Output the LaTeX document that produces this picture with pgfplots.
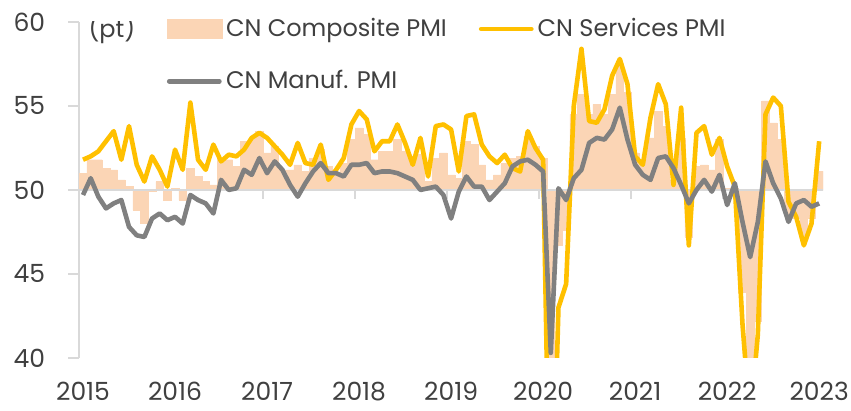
\documentclass[border=0pt]{standalone}
\usepackage{fontspec}
\setmainfont{Poppins}
\usepackage{pgfplots}
\pgfplotsset{compat=1.18}
\usepackage{pgfplotstable}
\usetikzlibrary{calc}
\definecolor{comp}{HTML}{FBD5B5}
\definecolor{serv}{HTML}{FFC000}
\definecolor{manu}{HTML}{808080}
\definecolor{txt}{HTML}{404040}
\definecolor{axgray}{HTML}{D9D9D9}

% monthly, i=0 is Jan 2015, i=96 is Jan 2023
\pgfplotstableread{
i comp serv manuf
0 51.0 51.8 49.7
1 51.8 52.0 50.7
2 51.8 52.3 49.6
3 51.3 52.9 48.9
4 51.2 53.5 49.2
5 50.6 51.8 49.4
6 50.2 53.8 47.8
7 48.8 51.5 47.3
8 48.0 50.5 47.2
9 49.9 52.0 48.3
10 50.5 51.2 48.6
11 49.4 50.2 48.2
12 50.1 52.4 48.4
13 49.4 51.2 48.0
14 51.3 55.2 49.7
15 50.8 51.8 49.4
16 50.5 51.2 49.2
17 50.3 52.7 48.6
18 51.9 51.7 50.6
19 51.8 52.1 50.0
20 51.4 52.0 50.1
21 52.9 52.4 51.2
22 53.0 53.1 50.9
23 53.5 53.4 51.9
24 52.2 53.1 51.0
25 52.6 52.6 51.7
26 51.2 52.1 51.2
27 51.2 51.5 50.3
28 51.5 52.8 49.6
29 51.1 51.6 50.4
30 51.9 51.5 51.1
31 52.4 52.7 51.6
32 51.4 50.6 51.0
33 51.0 51.2 51.0
34 51.6 51.9 50.8
35 53.0 53.9 51.5
36 53.7 54.7 51.5
37 53.3 54.2 51.6
38 51.8 52.3 51.0
39 52.3 52.9 51.1
40 52.3 52.9 51.1
41 53.0 53.9 51.0
42 52.3 52.8 50.8
43 52.0 51.5 50.6
44 52.1 53.1 50.0
45 50.5 50.8 50.1
46 51.9 53.8 50.2
47 52.2 53.9 49.7
48 50.9 53.6 48.3
49 50.7 51.1 49.9
50 52.9 54.4 50.8
51 52.7 54.5 50.2
52 51.5 52.7 50.2
53 50.6 52.0 49.4
54 50.9 51.6 49.9
55 51.6 52.1 50.4
56 51.9 51.3 51.4
57 52.0 51.1 51.7
58 53.2 53.5 51.8
59 52.6 52.5 51.5
60 51.9 51.8 51.1
61 27.5 26.5 40.3
62 46.7 43.0 50.1
63 47.6 44.4 49.4
64 54.5 55.0 50.7
65 55.7 58.4 51.2
66 54.5 54.1 52.8
67 55.1 54.0 53.1
68 54.5 54.8 53.0
69 55.7 56.8 53.6
70 57.5 57.8 54.9
71 55.8 56.3 53.0
72 52.2 52.0 51.5
73 51.7 51.5 50.9
74 53.1 54.3 50.6
75 54.7 56.3 51.9
76 53.8 55.1 52.0
77 50.6 50.3 51.3
78 53.1 54.9 50.3
79 47.2 46.7 49.2
80 51.4 53.4 50.0
81 51.5 53.8 50.6
82 51.2 52.1 49.9
83 53.0 53.1 50.9
84 50.1 51.4 49.1
85 50.1 50.2 50.4
86 43.9 42.0 48.1
87 37.2 36.2 46.0
88 42.2 41.4 48.1
89 55.3 54.5 51.7
90 54.0 55.5 50.4
91 53.0 55.0 49.5
92 48.5 49.3 48.1
93 48.3 48.4 49.2
94 47.0 46.7 49.4
95 48.3 48.0 49.0
96 51.1 52.9 49.2
}\pmi

\begin{document}
\begin{tikzpicture}
\begin{axis}[name=ax, scale only axis, width=372pt, height=168pt,
  xmin=-0.5, xmax=96.5, ymin=-10, ymax=10,
  axis lines*=left,
  x axis line style={draw=none},
  y axis line style={draw=axgray, line width=1pt},
  tick align=outside,
  major tick length=5.5pt,
  xtick style={draw=none},
  ytick style={draw=axgray, line width=1pt},
  ytick={-10,-5,0,5,10}, yticklabels={40,45,50,55,60},
  xtick={0,12,...,96},
  xticklabels={2015,2016,2017,2018,2019,2020,2021,2022,2023},
  ticklabel style={font=\fontsize{12.5}{14}\selectfont, text=txt},
  xticklabel style={yshift=-3pt},
  yticklabel style={xshift=-8pt},
  legend columns=2,
  legend cell align=left,
  legend style={draw=none, fill=none, at={(rel axis cs:0.117,1.0)}, anchor=north west,
    yshift=4pt,
    font=\fontsize{12}{14}\selectfont, text=txt, inner sep=0pt,
    row sep=11.5pt,
    /tikz/every even column/.append style={column sep=14pt}},
]
\pgfplotsinvokeforeach{11.5,23.5,35.5,47.5,59.5,71.5,83.5,95.5}{
  \draw[axgray, line width=1pt] (axis cs:#1,0) -- ++(0pt,-4.5pt);
}
\addplot[ybar, bar width=1, bar shift=0pt, fill=comp, draw=comp, line width=0.2pt,
  legend image code/.code={\fill[comp] (0pt,-4.75pt) rectangle (27.5pt,4.75pt);}]
  table[x=i, y expr=\thisrow{comp}-50] {\pmi};
\addlegendentry{CN Composite PMI}
\addplot[axgray, line width=1pt, forget plot] coordinates {(-0.5,0) (96.5,0)};
\addplot[serv, line width=2.3pt, line join=round, mark=none,
  legend image code/.code={\draw[serv, line width=2.3pt, line cap=round] (1.2pt,0pt) -- (26.3pt,0pt);}]
  table[x=i, y expr=\thisrow{serv}-50] {\pmi};
\addlegendentry{CN Services PMI}
\addplot[manu, line width=2.3pt, line join=round, mark=none,
  legend image code/.code={\draw[manu, line width=2.3pt, line cap=round] (1.2pt,0pt) -- (26.3pt,0pt);}]
  table[x=i, y expr=\thisrow{manuf}-50] {\pmi};
\addlegendentry{CN Manuf. PMI}
\node[anchor=west, text=txt, font=\fontsize{12}{14}\selectfont, inner sep=0pt] at (rel axis cs:0.012,0.979) {(pt)};
\end{axis}
\pgfresetboundingbox
\path ($(ax.south west)+(-39.6pt,-26.5pt)$) rectangle ($(ax.north east)+(14pt,11pt)$);
\end{tikzpicture}
\end{document}
